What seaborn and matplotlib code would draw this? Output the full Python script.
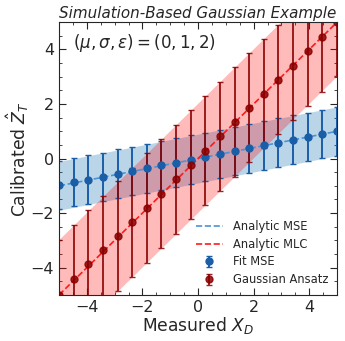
import numpy as np
import seaborn as sns
import matplotlib
matplotlib.use('Agg')
import matplotlib.pyplot as plt
from matplotlib.ticker import MultipleLocator

# measured points (shared grid for both fits)
x_meas = [-5.00, -4.47, -3.95, -3.42, -2.89, -2.37, -1.84, -1.32, -0.79, -0.26,
          0.26, 0.79, 1.32, 1.84, 2.37, 2.89, 3.42, 3.95, 4.47, 5.00]
mse_fit = [-0.97, -0.86, -0.77, -0.67, -0.55, -0.46, -0.36, -0.25, -0.15, -0.04,
           0.06, 0.16, 0.27, 0.37, 0.48, 0.58, 0.69, 0.79, 0.90, 1.00]
mse_err = [0.89] * 20
mlc_fit = [-5.00, -4.42, -3.88, -3.36, -2.84, -2.33, -1.81, -1.29, -0.76, -0.23,
           0.29, 0.81, 1.34, 1.86, 2.37, 2.89, 3.41, 3.93, 4.45, 5.02]
mlc_err = [2.0] * 20

# analytic curves (straight lines, endpoints)
x_line = [-5.0, 5.0]
mse_line = [-1.0, 1.0]
mse_band = 0.894
mlc_line = [-5.0, 5.0]
mlc_band = 2.0

sns.set_style("ticks")
plt.rcParams['font.family'] = ['DejaVu Sans']
plt.rcParams['mathtext.fontset'] = 'dejavusans'

fig, ax = plt.subplots(figsize=(3.45, 3.41), dpi=100)
fig.subplots_adjust(left=0.171, right=0.977, top=0.935, bottom=0.135)

xl = np.array(x_line)
ax.fill_between(xl, np.array(mse_line) - mse_band, np.array(mse_line) + mse_band,
                color="tab:blue", alpha=0.3, lw=0)
ax.fill_between(xl, np.array(mlc_line) - mlc_band, np.array(mlc_line) + mlc_band,
                color="red", alpha=0.27, lw=0)

sns.lineplot(x=x_line, y=mse_line, ax=ax, color="#4a94d4", ls="--", lw=1.2,
             label="Analytic MSE")
sns.lineplot(x=x_line, y=mlc_line, ax=ax, color="#ff1a1a", ls="--", lw=1.2,
             label="Analytic MLC")

ax.errorbar(x_meas, mse_fit, yerr=mse_err, fmt="o", color="#1a5ea8", ms=5,
            capsize=2.5, elinewidth=1.4, label="Fit MSE")
ax.errorbar(x_meas, mlc_fit, yerr=mlc_err, fmt="o", color="#8b0000", ms=5,
            capsize=2.5, elinewidth=1.4, alpha=0.85, label="Gaussian Ansatz")

ax.set_xlim(-5, 5)
ax.set_ylim(-5, 5)
ax.xaxis.set_major_locator(MultipleLocator(2))
ax.yaxis.set_major_locator(MultipleLocator(2))
ax.xaxis.set_minor_locator(MultipleLocator(0.5))
ax.yaxis.set_minor_locator(MultipleLocator(0.5))
ax.tick_params(which="both", direction="in", top=True, right=True, labelsize=11.5)
ax.tick_params(which="major", length=5)
ax.tick_params(which="minor", length=2.5)

ax.set_xlabel("Measured $X_D$", fontsize=12.3, labelpad=0)
ax.set_ylabel("Calibrated $\\hat{Z}_T$", fontsize=12.3, labelpad=0)
ax.set_title("Simulation-Based Gaussian Example", fontsize=10.9, style="italic", pad=3)
ax.text(0.05, 0.923, "$(\\mu, \\sigma, \\epsilon) = (0, 1, 2)$", transform=ax.transAxes,
        fontsize=12, va="center")

ax.legend(loc="lower right", frameon=False, fontsize=8.3, handlelength=2.3,
          handletextpad=0.9, borderaxespad=0.35, labelspacing=0.42)

fig.savefig("out.png", dpi=100)
